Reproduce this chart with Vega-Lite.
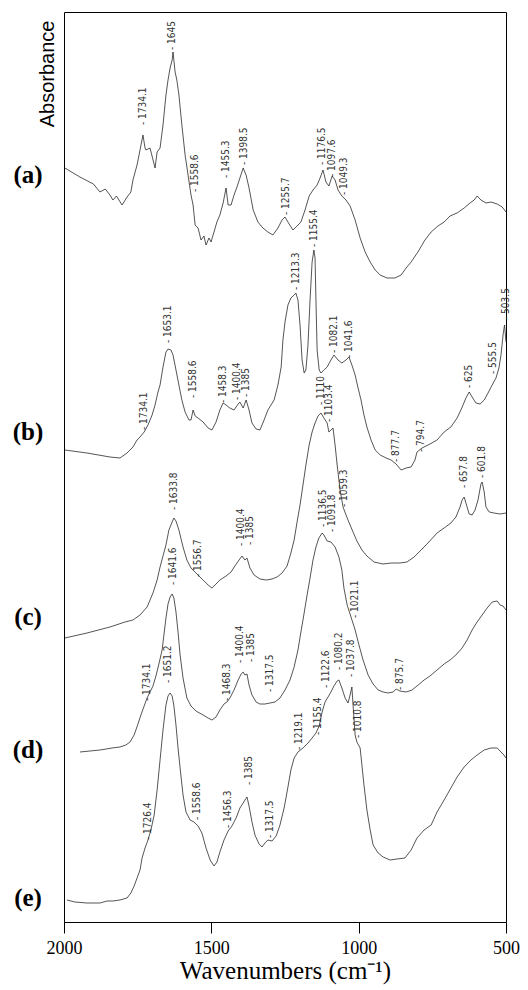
{
  "$schema": "https://vega.github.io/schema/vega-lite/v6.json",
  "width": 442,
  "height": 910,
  "autosize": {"type": "none"},
  "padding": {"left": 64, "top": 12, "right": 22, "bottom": 68},
  "background": "white",
  "config": {"view": {"stroke": "#000", "strokeWidth": 1}, "font": "Times New Roman, Liberation Serif, serif",
    "axis": {"labelFont": "Times New Roman, Liberation Serif, serif", "titleFont": "Times New Roman, Liberation Serif, serif"}},
  "datasets": {
    "spectra": [
      {"s":"a","w":1997,"v":754},{"s":"a","w":1946,"v":745},{"s":"a","w":1900,"v":738},{"s":"a","w":1878,"v":730},{"s":"a","w":1860,"v":733},{"s":"a","w":1844,"v":727},{"s":"a","w":1834,"v":722},{"s":"a","w":1822,"v":726},{"s":"a","w":1803,"v":717},{"s":"a","w":1786,"v":725},{"s":"a","w":1773,"v":730},{"s":"a","w":1766,"v":742},{"s":"a","w":1752,"v":757},{"s":"a","w":1742,"v":772},{"s":"a","w":1732,"v":787},{"s":"a","w":1725,"v":774},{"s":"a","w":1722,"v":772},{"s":"a","w":1708,"v":774},{"s":"a","w":1691,"v":754},{"s":"a","w":1684,"v":770},{"s":"a","w":1674,"v":774},{"s":"a","w":1664,"v":797},{"s":"a","w":1654,"v":827},{"s":"a","w":1647,"v":842},{"s":"a","w":1640,"v":854},{"s":"a","w":1633,"v":862},{"s":"a","w":1630,"v":870},{"s":"a","w":1623,"v":850},{"s":"a","w":1617,"v":842},{"s":"a","w":1610,"v":827},{"s":"a","w":1600,"v":797},{"s":"a","w":1589,"v":767},{"s":"a","w":1579,"v":747},{"s":"a","w":1569,"v":727},{"s":"a","w":1562,"v":717},{"s":"a","w":1555,"v":697},{"s":"a","w":1545,"v":694},{"s":"a","w":1535,"v":682},{"s":"a","w":1525,"v":686},{"s":"a","w":1518,"v":677},{"s":"a","w":1508,"v":684},{"s":"a","w":1501,"v":680},{"s":"a","w":1491,"v":690},{"s":"a","w":1481,"v":700},{"s":"a","w":1471,"v":707},{"s":"a","w":1460,"v":719},{"s":"a","w":1450,"v":734},{"s":"a","w":1443,"v":717},{"s":"a","w":1433,"v":717},{"s":"a","w":1423,"v":727},{"s":"a","w":1413,"v":735},{"s":"a","w":1403,"v":744},{"s":"a","w":1392,"v":754},{"s":"a","w":1382,"v":747},{"s":"a","w":1372,"v":734},{"s":"a","w":1358,"v":712},{"s":"a","w":1342,"v":700},{"s":"a","w":1325,"v":694},{"s":"a","w":1308,"v":690},{"s":"a","w":1291,"v":687},{"s":"a","w":1274,"v":694},{"s":"a","w":1260,"v":702},{"s":"a","w":1250,"v":705},{"s":"a","w":1236,"v":698},{"s":"a","w":1223,"v":692},{"s":"a","w":1209,"v":696},{"s":"a","w":1196,"v":700},{"s":"a","w":1182,"v":712},{"s":"a","w":1168,"v":726},{"s":"a","w":1155,"v":732},{"s":"a","w":1141,"v":737},{"s":"a","w":1131,"v":744},{"s":"a","w":1121,"v":752},{"s":"a","w":1111,"v":740},{"s":"a","w":1101,"v":736},{"s":"a","w":1090,"v":746},{"s":"a","w":1080,"v":742},{"s":"a","w":1070,"v":732},{"s":"a","w":1057,"v":726},{"s":"a","w":1043,"v":722},{"s":"a","w":1029,"v":716},{"s":"a","w":1012,"v":702},{"s":"a","w":995,"v":684},{"s":"a","w":978,"v":670},{"s":"a","w":961,"v":660},{"s":"a","w":944,"v":652},{"s":"a","w":927,"v":647},{"s":"a","w":904,"v":644},{"s":"a","w":877,"v":644},{"s":"a","w":856,"v":647},{"s":"a","w":839,"v":654},{"s":"a","w":822,"v":660},{"s":"a","w":799,"v":670},{"s":"a","w":775,"v":682},{"s":"a","w":754,"v":690},{"s":"a","w":731,"v":696},{"s":"a","w":710,"v":700},{"s":"a","w":690,"v":706},{"s":"a","w":666,"v":709},{"s":"a","w":642,"v":714},{"s":"a","w":622,"v":719},{"s":"a","w":608,"v":722},{"s":"a","w":598,"v":726},{"s":"a","w":585,"v":722},{"s":"a","w":568,"v":719},{"s":"a","w":551,"v":720},{"s":"a","w":530,"v":718},{"s":"a","w":513,"v":715},{"s":"a","w":500,"v":710},

      {"s":"b","w":1997,"v":472},{"s":"b","w":1922,"v":469},{"s":"b","w":1844,"v":465},{"s":"b","w":1810,"v":464},{"s":"b","w":1786,"v":469},{"s":"b","w":1766,"v":475},{"s":"b","w":1752,"v":482},{"s":"b","w":1742,"v":485},{"s":"b","w":1728,"v":490},{"s":"b","w":1715,"v":497},{"s":"b","w":1701,"v":507},{"s":"b","w":1691,"v":517},{"s":"b","w":1681,"v":530},{"s":"b","w":1674,"v":537},{"s":"b","w":1664,"v":555},{"s":"b","w":1654,"v":570},{"s":"b","w":1647,"v":573},{"s":"b","w":1637,"v":572},{"s":"b","w":1630,"v":567},{"s":"b","w":1620,"v":552},{"s":"b","w":1610,"v":537},{"s":"b","w":1600,"v":522},{"s":"b","w":1589,"v":510},{"s":"b","w":1576,"v":502},{"s":"b","w":1569,"v":502},{"s":"b","w":1562,"v":512},{"s":"b","w":1555,"v":506},{"s":"b","w":1545,"v":504},{"s":"b","w":1528,"v":500},{"s":"b","w":1511,"v":494},{"s":"b","w":1498,"v":492},{"s":"b","w":1484,"v":500},{"s":"b","w":1471,"v":512},{"s":"b","w":1460,"v":519},{"s":"b","w":1450,"v":517},{"s":"b","w":1437,"v":514},{"s":"b","w":1423,"v":512},{"s":"b","w":1409,"v":518},{"s":"b","w":1403,"v":520},{"s":"b","w":1392,"v":514},{"s":"b","w":1382,"v":522},{"s":"b","w":1372,"v":512},{"s":"b","w":1362,"v":499},{"s":"b","w":1348,"v":493},{"s":"b","w":1335,"v":492},{"s":"b","w":1321,"v":502},{"s":"b","w":1308,"v":512},{"s":"b","w":1287,"v":522},{"s":"b","w":1274,"v":537},{"s":"b","w":1263,"v":555},{"s":"b","w":1257,"v":582},{"s":"b","w":1250,"v":600},{"s":"b","w":1240,"v":617},{"s":"b","w":1230,"v":624},{"s":"b","w":1219,"v":627},{"s":"b","w":1213,"v":629},{"s":"b","w":1206,"v":622},{"s":"b","w":1199,"v":597},{"s":"b","w":1192,"v":562},{"s":"b","w":1185,"v":549},{"s":"b","w":1179,"v":552},{"s":"b","w":1172,"v":577},{"s":"b","w":1165,"v":622},{"s":"b","w":1158,"v":660},{"s":"b","w":1152,"v":672},{"s":"b","w":1148,"v":664},{"s":"b","w":1145,"v":622},{"s":"b","w":1141,"v":572},{"s":"b","w":1134,"v":552},{"s":"b","w":1128,"v":549},{"s":"b","w":1118,"v":552},{"s":"b","w":1107,"v":555},{"s":"b","w":1094,"v":562},{"s":"b","w":1084,"v":567},{"s":"b","w":1070,"v":562},{"s":"b","w":1057,"v":559},{"s":"b","w":1043,"v":562},{"s":"b","w":1033,"v":565},{"s":"b","w":1023,"v":557},{"s":"b","w":1012,"v":547},{"s":"b","w":1002,"v":534},{"s":"b","w":992,"v":522},{"s":"b","w":982,"v":507},{"s":"b","w":972,"v":495},{"s":"b","w":958,"v":482},{"s":"b","w":944,"v":472},{"s":"b","w":927,"v":467},{"s":"b","w":907,"v":464},{"s":"b","w":890,"v":462},{"s":"b","w":873,"v":458},{"s":"b","w":856,"v":452},{"s":"b","w":839,"v":454},{"s":"b","w":822,"v":455},{"s":"b","w":809,"v":462},{"s":"b","w":802,"v":470},{"s":"b","w":785,"v":474},{"s":"b","w":758,"v":478},{"s":"b","w":734,"v":482},{"s":"b","w":710,"v":490},{"s":"b","w":687,"v":495},{"s":"b","w":666,"v":504},{"s":"b","w":650,"v":514},{"s":"b","w":636,"v":524},{"s":"b","w":625,"v":530},{"s":"b","w":615,"v":525},{"s":"b","w":602,"v":519},{"s":"b","w":588,"v":518},{"s":"b","w":574,"v":522},{"s":"b","w":561,"v":529},{"s":"b","w":547,"v":537},{"s":"b","w":534,"v":544},{"s":"b","w":524,"v":554},{"s":"b","w":517,"v":567},{"s":"b","w":510,"v":587},{"s":"b","w":505,"v":597},{"s":"b","w":500,"v":580},

      {"s":"c","w":1997,"v":284},{"s":"c","w":1922,"v":289},{"s":"c","w":1844,"v":295},{"s":"c","w":1793,"v":300},{"s":"c","w":1766,"v":302},{"s":"c","w":1742,"v":307},{"s":"c","w":1718,"v":315},{"s":"c","w":1698,"v":329},{"s":"c","w":1684,"v":342},{"s":"c","w":1674,"v":355},{"s":"c","w":1664,"v":366},{"s":"c","w":1654,"v":377},{"s":"c","w":1644,"v":392},{"s":"c","w":1633,"v":400},{"s":"c","w":1627,"v":404},{"s":"c","w":1620,"v":401},{"s":"c","w":1610,"v":392},{"s":"c","w":1596,"v":375},{"s":"c","w":1583,"v":362},{"s":"c","w":1569,"v":354},{"s":"c","w":1549,"v":348},{"s":"c","w":1528,"v":342},{"s":"c","w":1511,"v":337},{"s":"c","w":1498,"v":334},{"s":"c","w":1484,"v":338},{"s":"c","w":1471,"v":342},{"s":"c","w":1450,"v":346},{"s":"c","w":1433,"v":350},{"s":"c","w":1420,"v":356},{"s":"c","w":1406,"v":362},{"s":"c","w":1396,"v":366},{"s":"c","w":1386,"v":362},{"s":"c","w":1379,"v":364},{"s":"c","w":1369,"v":354},{"s":"c","w":1355,"v":347},{"s":"c","w":1335,"v":343},{"s":"c","w":1314,"v":342},{"s":"c","w":1294,"v":343},{"s":"c","w":1277,"v":345},{"s":"c","w":1260,"v":349},{"s":"c","w":1243,"v":356},{"s":"c","w":1230,"v":369},{"s":"c","w":1219,"v":382},{"s":"c","w":1209,"v":400},{"s":"c","w":1199,"v":417},{"s":"c","w":1189,"v":437},{"s":"c","w":1179,"v":457},{"s":"c","w":1168,"v":477},{"s":"c","w":1158,"v":490},{"s":"c","w":1148,"v":499},{"s":"c","w":1138,"v":506},{"s":"c","w":1128,"v":509},{"s":"c","w":1118,"v":504},{"s":"c","w":1107,"v":499},{"s":"c","w":1101,"v":490},{"s":"c","w":1094,"v":492},{"s":"c","w":1087,"v":494},{"s":"c","w":1080,"v":477},{"s":"c","w":1073,"v":457},{"s":"c","w":1063,"v":432},{"s":"c","w":1053,"v":415},{"s":"c","w":1039,"v":404},{"s":"c","w":1022,"v":392},{"s":"c","w":1006,"v":381},{"s":"c","w":989,"v":372},{"s":"c","w":972,"v":366},{"s":"c","w":948,"v":360},{"s":"c","w":917,"v":358},{"s":"c","w":890,"v":359},{"s":"c","w":860,"v":359},{"s":"c","w":836,"v":360},{"s":"c","w":812,"v":365},{"s":"c","w":788,"v":372},{"s":"c","w":765,"v":379},{"s":"c","w":734,"v":389},{"s":"c","w":710,"v":394},{"s":"c","w":687,"v":399},{"s":"c","w":670,"v":405},{"s":"c","w":656,"v":415},{"s":"c","w":649,"v":422},{"s":"c","w":642,"v":425},{"s":"c","w":636,"v":419},{"s":"c","w":625,"v":408},{"s":"c","w":615,"v":407},{"s":"c","w":605,"v":412},{"s":"c","w":595,"v":422},{"s":"c","w":585,"v":438},{"s":"c","w":581,"v":440},{"s":"c","w":574,"v":430},{"s":"c","w":568,"v":415},{"s":"c","w":557,"v":410},{"s":"c","w":541,"v":409},{"s":"c","w":520,"v":408},{"s":"c","w":500,"v":409},

      {"s":"d","w":1946,"v":170},{"s":"d","w":1912,"v":171},{"s":"d","w":1878,"v":172},{"s":"d","w":1837,"v":174},{"s":"d","w":1810,"v":175},{"s":"d","w":1790,"v":177},{"s":"d","w":1776,"v":180},{"s":"d","w":1762,"v":187},{"s":"d","w":1749,"v":198},{"s":"d","w":1739,"v":207},{"s":"d","w":1728,"v":216},{"s":"d","w":1718,"v":224},{"s":"d","w":1708,"v":230},{"s":"d","w":1698,"v":236},{"s":"d","w":1688,"v":246},{"s":"d","w":1678,"v":258},{"s":"d","w":1667,"v":272},{"s":"d","w":1661,"v":287},{"s":"d","w":1654,"v":304},{"s":"d","w":1647,"v":318},{"s":"d","w":1640,"v":325},{"s":"d","w":1633,"v":328},{"s":"d","w":1627,"v":324},{"s":"d","w":1620,"v":310},{"s":"d","w":1613,"v":290},{"s":"d","w":1606,"v":267},{"s":"d","w":1596,"v":244},{"s":"d","w":1583,"v":224},{"s":"d","w":1569,"v":216},{"s":"d","w":1552,"v":211},{"s":"d","w":1528,"v":207},{"s":"d","w":1511,"v":204},{"s":"d","w":1498,"v":202},{"s":"d","w":1484,"v":205},{"s":"d","w":1471,"v":212},{"s":"d","w":1457,"v":218},{"s":"d","w":1447,"v":220},{"s":"d","w":1437,"v":224},{"s":"d","w":1423,"v":232},{"s":"d","w":1409,"v":242},{"s":"d","w":1399,"v":248},{"s":"d","w":1392,"v":250},{"s":"d","w":1386,"v":247},{"s":"d","w":1379,"v":248},{"s":"d","w":1372,"v":237},{"s":"d","w":1362,"v":227},{"s":"d","w":1348,"v":220},{"s":"d","w":1335,"v":218},{"s":"d","w":1318,"v":218},{"s":"d","w":1301,"v":219},{"s":"d","w":1284,"v":220},{"s":"d","w":1267,"v":224},{"s":"d","w":1250,"v":232},{"s":"d","w":1233,"v":242},{"s":"d","w":1219,"v":255},{"s":"d","w":1206,"v":272},{"s":"d","w":1196,"v":290},{"s":"d","w":1185,"v":309},{"s":"d","w":1175,"v":327},{"s":"d","w":1165,"v":344},{"s":"d","w":1155,"v":362},{"s":"d","w":1145,"v":375},{"s":"d","w":1135,"v":384},{"s":"d","w":1124,"v":389},{"s":"d","w":1118,"v":387},{"s":"d","w":1107,"v":381},{"s":"d","w":1094,"v":380},{"s":"d","w":1080,"v":375},{"s":"d","w":1067,"v":365},{"s":"d","w":1057,"v":352},{"s":"d","w":1050,"v":334},{"s":"d","w":1039,"v":317},{"s":"d","w":1026,"v":305},{"s":"d","w":1012,"v":292},{"s":"d","w":999,"v":277},{"s":"d","w":985,"v":262},{"s":"d","w":968,"v":247},{"s":"d","w":951,"v":238},{"s":"d","w":934,"v":232},{"s":"d","w":917,"v":230},{"s":"d","w":900,"v":229},{"s":"d","w":883,"v":230},{"s":"d","w":873,"v":233},{"s":"d","w":860,"v":231},{"s":"d","w":839,"v":230},{"s":"d","w":819,"v":232},{"s":"d","w":798,"v":237},{"s":"d","w":778,"v":242},{"s":"d","w":758,"v":246},{"s":"d","w":734,"v":252},{"s":"d","w":710,"v":258},{"s":"d","w":690,"v":262},{"s":"d","w":670,"v":267},{"s":"d","w":649,"v":274},{"s":"d","w":632,"v":282},{"s":"d","w":615,"v":292},{"s":"d","w":598,"v":300},{"s":"d","w":581,"v":307},{"s":"d","w":564,"v":314},{"s":"d","w":547,"v":320},{"s":"d","w":530,"v":321},{"s":"d","w":520,"v":317},{"s":"d","w":510,"v":316},{"s":"d","w":500,"v":312},

      {"s":"e","w":1990,"v":22},{"s":"e","w":1963,"v":20},{"s":"e","w":1922,"v":19},{"s":"e","w":1878,"v":19},{"s":"e","w":1854,"v":21},{"s":"e","w":1834,"v":21},{"s":"e","w":1810,"v":22},{"s":"e","w":1786,"v":24},{"s":"e","w":1773,"v":29},{"s":"e","w":1762,"v":36},{"s":"e","w":1752,"v":44},{"s":"e","w":1742,"v":52},{"s":"e","w":1735,"v":64},{"s":"e","w":1725,"v":74},{"s":"e","w":1715,"v":82},{"s":"e","w":1705,"v":92},{"s":"e","w":1694,"v":107},{"s":"e","w":1684,"v":132},{"s":"e","w":1674,"v":162},{"s":"e","w":1664,"v":192},{"s":"e","w":1654,"v":217},{"s":"e","w":1647,"v":226},{"s":"e","w":1640,"v":229},{"s":"e","w":1633,"v":226},{"s":"e","w":1627,"v":216},{"s":"e","w":1620,"v":197},{"s":"e","w":1613,"v":174},{"s":"e","w":1606,"v":154},{"s":"e","w":1596,"v":127},{"s":"e","w":1586,"v":110},{"s":"e","w":1572,"v":102},{"s":"e","w":1559,"v":100},{"s":"e","w":1545,"v":96},{"s":"e","w":1532,"v":89},{"s":"e","w":1518,"v":74},{"s":"e","w":1504,"v":62},{"s":"e","w":1491,"v":56},{"s":"e","w":1481,"v":60},{"s":"e","w":1471,"v":70},{"s":"e","w":1457,"v":82},{"s":"e","w":1443,"v":91},{"s":"e","w":1430,"v":96},{"s":"e","w":1416,"v":104},{"s":"e","w":1403,"v":114},{"s":"e","w":1392,"v":119},{"s":"e","w":1386,"v":122},{"s":"e","w":1379,"v":125},{"s":"e","w":1372,"v":116},{"s":"e","w":1362,"v":100},{"s":"e","w":1352,"v":87},{"s":"e","w":1338,"v":78},{"s":"e","w":1328,"v":75},{"s":"e","w":1318,"v":79},{"s":"e","w":1308,"v":82},{"s":"e","w":1294,"v":81},{"s":"e","w":1280,"v":86},{"s":"e","w":1267,"v":97},{"s":"e","w":1253,"v":114},{"s":"e","w":1240,"v":135},{"s":"e","w":1230,"v":152},{"s":"e","w":1219,"v":164},{"s":"e","w":1206,"v":170},{"s":"e","w":1189,"v":174},{"s":"e","w":1172,"v":179},{"s":"e","w":1158,"v":184},{"s":"e","w":1145,"v":189},{"s":"e","w":1134,"v":196},{"s":"e","w":1124,"v":210},{"s":"e","w":1114,"v":220},{"s":"e","w":1104,"v":225},{"s":"e","w":1094,"v":230},{"s":"e","w":1084,"v":236},{"s":"e","w":1073,"v":241},{"s":"e","w":1067,"v":242},{"s":"e","w":1057,"v":234},{"s":"e","w":1046,"v":224},{"s":"e","w":1036,"v":219},{"s":"e","w":1029,"v":227},{"s":"e","w":1023,"v":235},{"s":"e","w":1019,"v":217},{"s":"e","w":1012,"v":187},{"s":"e","w":1006,"v":180},{"s":"e","w":995,"v":174},{"s":"e","w":989,"v":157},{"s":"e","w":982,"v":137},{"s":"e","w":972,"v":112},{"s":"e","w":961,"v":92},{"s":"e","w":951,"v":77},{"s":"e","w":934,"v":69},{"s":"e","w":917,"v":65},{"s":"e","w":893,"v":62},{"s":"e","w":870,"v":63},{"s":"e","w":843,"v":64},{"s":"e","w":822,"v":72},{"s":"e","w":802,"v":84},{"s":"e","w":778,"v":92},{"s":"e","w":754,"v":97},{"s":"e","w":734,"v":110},{"s":"e","w":710,"v":122},{"s":"e","w":687,"v":134},{"s":"e","w":666,"v":145},{"s":"e","w":642,"v":155},{"s":"e","w":619,"v":162},{"s":"e","w":598,"v":167},{"s":"e","w":574,"v":172},{"s":"e","w":551,"v":174},{"s":"e","w":530,"v":174},{"s":"e","w":517,"v":170},{"s":"e","w":507,"v":167},{"s":"e","w":500,"v":164}
    ],
    "peaks": [
      {"w":1732,"v":797,"t":"- 1734.1"},{"w":1633,"v":872,"t":"- 1645"},{"w":1555,"v":730,"t":"- 1558.6"},{"w":1450,"v":744,"t":"- 1455.3"},{"w":1389,"v":757,"t":"- 1398.5"},{"w":1247,"v":707,"t":"- 1255.7"},{"w":1124,"v":757,"t":"- 1176.5"},{"w":1090,"v":745,"t":"- 1097.6"},{"w":1050,"v":727,"t":"- 1049.3"},
      {"w":1728,"v":492,"t":"- 1734.1"},{"w":1647,"v":579,"t":"- 1653.1"},{"w":1562,"v":524,"t":"- 1558.6"},{"w":1460,"v":519,"t":"- 1458.3"},{"w":1413,"v":522,"t":"- 1400.4"},{"w":1382,"v":525,"t":"- 1385"},{"w":1213,"v":632,"t":"- 1213.3"},{"w":1152,"v":675,"t":"- 1155.4"},{"w":1084,"v":569,"t":"- 1082.1"},{"w":1033,"v":564,"t":"- 1041.6"},{"w":873,"v":460,"t":"- 877.7"},{"w":788,"v":470,"t":"- 794.7"},{"w":625,"v":534,"t":"- 625"},{"w":544,"v":548,"t":"- 555.5"},{"w":500,"v":602,"t":"- 503.5"},
      {"w":1627,"v":412,"t":"- 1633.8"},{"w":1545,"v":345,"t":"- 1556.7"},{"w":1399,"v":376,"t":"- 1400.4"},{"w":1368,"v":377,"t":"- 1385"},{"w":1128,"v":517,"t":"- 1110"},{"w":1101,"v":500,"t":"- 1103.4"},{"w":1050,"v":415,"t":"- 1059.3"},{"w":642,"v":434,"t":"- 657.8"},{"w":581,"v":444,"t":"- 601.8"},
      {"w":1718,"v":221,"t":"- 1734.1"},{"w":1630,"v":337,"t":"- 1641.6"},{"w":1447,"v":221,"t":"- 1468.3"},{"w":1403,"v":259,"t":"- 1400.4"},{"w":1365,"v":260,"t":"- 1385"},{"w":1301,"v":230,"t":"- 1317.5"},{"w":1121,"v":395,"t":"- 1136.5"},{"w":1090,"v":390,"t":"- 1091.8"},{"w":1012,"v":304,"t":"- 1021.1"},{"w":860,"v":232,"t":"- 875.7"},
      {"w":1715,"v":82,"t":"- 1726.4"},{"w":1647,"v":239,"t":"- 1651.2"},{"w":1549,"v":102,"t":"- 1558.6"},{"w":1443,"v":94,"t":"- 1456.3"},{"w":1372,"v":137,"t":"- 1385"},{"w":1301,"v":84,"t":"- 1317.5"},{"w":1202,"v":172,"t":"- 1219.1"},{"w":1138,"v":187,"t":"- 1155.4"},{"w":1111,"v":234,"t":"- 1122.6"},{"w":1067,"v":252,"t":"- 1080.2"},{"w":1026,"v":245,"t":"- 1037.8"},{"w":1002,"v":184,"t":"- 1010.8"}
    ],
    "letters": [
      {"w":2122,"v":747,"t":"(a)"},{"w":2122,"v":490,"t":"(b)"},{"w":2122,"v":305,"t":"(c)"},{"w":2122,"v":172,"t":"(d)"},{"w":2122,"v":24,"t":"(e)"}
    ]
  },
  "encoding": {
    "x": {"field": "w", "type": "quantitative",
      "scale": {"domain": [500, 2000], "reverse": true, "nice": false, "zero": false},
      "axis": {"values": [2000, 1500, 1000, 500], "format": "d", "grid": false, "tickSize": 11, "tickColor": "#000", "domainColor": "#000",
        "labelFont": "Times New Roman, Liberation Serif, serif", "labelFontSize": 18, "labelColor": "#000", "labelPadding": 6, "labelFlush": false,
        "title": "Wavenumbers (cm⁻¹)", "titleFont": "Times New Roman, Liberation Serif, serif", "titleFontSize": 25, "titleFontWeight": "normal", "titleColor": "#000", "titlePadding": 1}},
    "y": {"field": "v", "type": "quantitative",
      "scale": {"domain": [0, 910], "nice": false, "zero": false},
      "axis": {"domain": false, "ticks": false, "labels": false, "grid": false,
        "title": "Absorbance", "titleFont": "Liberation Sans", "titleFontSize": 20, "titleFontWeight": "normal", "titleColor": "#000",
        "titleAngle": 270, "titleAnchor": "end", "titleAlign": "right", "titleBaseline": "alphabetic", "titleX": -11, "titleY": 8}}
  },
  "layer": [
    {"data": {"name": "spectra"}, "mark": {"type": "line", "color": "#2a2a2a", "strokeWidth": 0.8, "interpolate": "linear"},
     "encoding": {"detail": {"field": "s", "type": "nominal"}}},
    {"data": {"name": "peaks"}, "mark": {"type": "text", "angle": 270, "align": "left", "baseline": "middle", "font": "Liberation Sans Narrow, DejaVu Sans Condensed, Liberation Sans", "fontSize": 10, "color": "#333"},
     "encoding": {"text": {"field": "t"}}},
    {"data": {"name": "letters"}, "mark": {"type": "text", "align": "center", "baseline": "middle", "font": "Times New Roman, Liberation Serif, serif", "fontSize": 25, "fontWeight": "bold", "color": "#000"},
     "encoding": {"text": {"field": "t"}}}
  ]
}
